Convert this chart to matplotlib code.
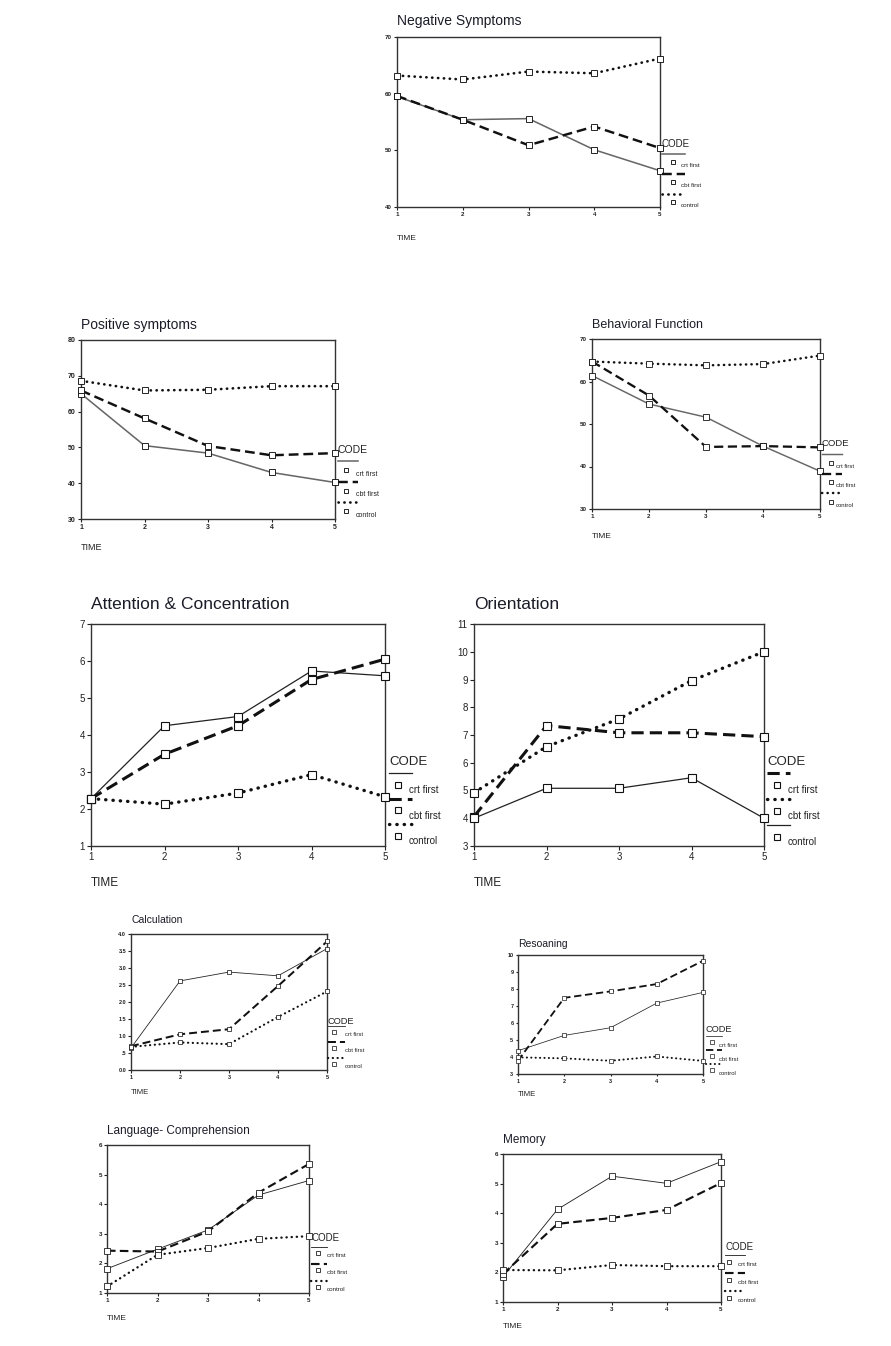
import matplotlib
matplotlib.use('Agg')
import matplotlib.pyplot as plt
from matplotlib.lines import Line2D

plt.rcParams['font.family'] = ['Liberation Sans', 'DejaVu Sans']

W, H = 891, 1346

# data
time = [1, 2, 3, 4, 5]
codes = ['crt first', 'cbt first', 'control']

neg_crt = [59.5, 55.4, 55.6, 50.1, 46.4]
neg_cbt = [59.6, 55.4, 50.9, 54.2, 50.4]
neg_ctrl = [63.2, 62.5, 63.9, 63.6, 66.2]

pos_crt = [65.0, 50.5, 48.4, 43.0, 40.2]
pos_cbt = [65.9, 58.1, 50.4, 47.8, 48.4]
pos_ctrl = [68.6, 65.9, 66.1, 67.1, 67.1]

beh_crt = [61.4, 54.7, 51.6, 44.8, 38.9]
beh_cbt = [64.7, 56.7, 44.6, 44.8, 44.5]
beh_ctrl = [64.7, 64.2, 63.8, 64.1, 66.1]

att_crt = [2.28, 4.25, 4.5, 5.73, 5.6]
att_cbt = [2.28, 3.48, 4.25, 5.5, 6.05]
att_ctrl = [2.28, 2.13, 2.43, 2.93, 2.33]

ori_crt = [4.06, 7.34, 7.08, 7.08, 6.94]
ori_cbt = [4.92, 6.58, 7.58, 8.96, 10.0]
ori_ctrl = [4.0, 5.08, 5.08, 5.46, 4.0]

calc_crt = [0.65, 2.62, 2.88, 2.77, 3.57]
calc_cbt = [0.7, 1.05, 1.2, 2.47, 3.78]
calc_ctrl = [0.68, 0.81, 0.76, 1.56, 2.31]

rea_crt = [4.37, 5.27, 5.72, 7.17, 7.8]
rea_cbt = [3.78, 7.48, 7.86, 8.29, 9.66]
rea_ctrl = [3.98, 3.92, 3.78, 4.03, 3.77]

lang_crt = [1.82, 2.48, 3.13, 4.31, 4.8]
lang_cbt = [2.43, 2.4, 3.08, 4.39, 5.36]
lang_ctrl = [1.22, 2.29, 2.52, 2.83, 2.92]

mem_crt = [1.85, 4.13, 5.25, 5.01, 5.74]
mem_cbt = [1.95, 3.64, 3.84, 4.11, 5.02]
mem_ctrl = [2.08, 2.07, 2.25, 2.21, 2.21]

neg_yticks = [40, 50, 60, 70]
pos_yticks = [30, 40, 50, 60, 70, 80]
beh_yticks = [30, 40, 50, 60, 70]
att_yticks = [1, 2, 3, 4, 5, 6, 7]
ori_yticks = [3, 4, 5, 6, 7, 8, 9, 10, 11]
calc_yticks = [0, 0.5, 1, 1.5, 2, 2.5, 3, 3.5, 4]
calc_yticklabels = ['0.0', '.5', '1.0', '1.5', '2.0', '2.5', '3.0', '3.5', '4.0']
rea_yticks = [3, 4, 5, 6, 7, 8, 9, 10]
lang_yticks = [1, 2, 3, 4, 5, 6]
mem_yticks = [1, 2, 3, 4, 5, 6]


def fx(px):
    return px / W


def fy(py):
    return 1 - py / H


# line style kinds: 's' solid, 'd' dashed, 'o' dotted
def style_kw(kind, k, gray):
    if kind == 's':
        return dict(color='#666666' if gray else '#222222', lw=1.4 * k if gray else 0.9 * k,
                    linestyle='-')
    if kind == 'd':
        return dict(color='#111111', lw=2.2 * k, linestyle=(0, (4, 2)))
    return dict(color='#111111', lw=2.4 * k, linestyle=(0, (0.1, 2.1)),
                dash_capstyle='round')


fig = plt.figure(figsize=(W / 100, H / 100), dpi=100)


def panel(title, series, kinds, yticks, box, k, tfs, tickfs, title_y, time_y, leg,
          gray=False, yticklabels=None):
    l, t, r, b = box
    ax = fig.add_axes([fx(l), fy(b), fx(r) - fx(l), (b - t) / H])
    for vals, kind in zip(series, kinds):
        ax.plot(time, vals, marker='s', ms=5.2 * k, mfc='white', mec='#111111',
                mew=0.8 * k, clip_on=False, zorder=3, **style_kw(kind, k, gray))
    ax.set_xlim(1, 5)
    ax.set_ylim(yticks[0], yticks[-1])
    ax.set_xticks(time)
    ax.set_yticks(yticks)
    if yticklabels:
        ax.set_yticklabels(yticklabels)
    ax.tick_params(labelsize=tickfs, length=3 * k, width=0.8, direction='out', pad=1.5,
                   colors='#222222')
    # the tiny SPSS tick labels look heavy in the original
    if tickfs < 6:
        for lab in ax.get_xticklabels() + ax.get_yticklabels():
            lab.set_fontweight('bold')
    for s in ax.spines.values():
        s.set_color('#333333')
        s.set_linewidth(1.0)
    fig.text(fx(l), fy(title_y), title, fontsize=tfs, ha='left', va='center', color='#1c1c28')
    fig.text(fx(l), fy(time_y), 'TIME', fontsize=max(tickfs + 1.5, 5.5), ha='left',
             va='center', color='#222222')

    # hand made legend, SPSS style
    xc, yc, y1, step, dsq, x1, xsq, xlab, lfs = leg
    fig.text(fx(xc), fy(yc), 'CODE', fontsize=lfs + 2.5, ha='left', va='center', color='#222222')
    for i, kind in enumerate(kinds):
        yl = y1 + i * step
        kw = style_kw(kind, k, gray)
        fig.add_artist(Line2D([fx(xc), fx(x1)], [fy(yl), fy(yl)], transform=fig.transFigure, **kw))
        fig.add_artist(Line2D([fx(xsq)], [fy(yl + dsq)], transform=fig.transFigure,
                              marker='s', ms=4.2 * k, mfc='white', mec='#111111', mew=0.8 * k,
                              linestyle='none'))
        fig.text(fx(xlab), fy(yl + dsq * 1.45), codes[i], fontsize=lfs, ha='left',
                 va='center', color='#222222')
    return ax


panel('Negative Symptoms', [neg_crt, neg_cbt, neg_ctrl], 'sdo', neg_yticks,
      (397, 37, 660, 207), 0.8, 10, 4.5, 21, 239,
      (662, 144, 154, 20, 8, 685, 673, 681, 4.5), gray=True)

panel('Positive symptoms', [pos_crt, pos_cbt, pos_ctrl], 'sdo', pos_yticks,
      (81, 340, 335, 519), 0.8, 10, 5, 325, 548,
      (338, 450, 461, 20.5, 9, 358, 346, 356, 5), gray=True)

panel('Behavioral Function', [beh_crt, beh_cbt, beh_ctrl], 'sdo', beh_yticks,
      (592, 339, 820, 509), 0.75, 9, 4.5, 325, 537,
      (822, 444, 454, 19.5, 8.5, 842, 831, 836, 4.3), gray=True)

panel('Attention & Concentration', [att_crt, att_cbt, att_ctrl], 'sdo', att_yticks,
      (91, 624, 385, 846), 1.0, 12.5, 7, 605, 883,
      (389, 762, 773, 25.7, 11.7, 412, 398, 409, 7))

panel('Orientation', [ori_crt, ori_cbt, ori_ctrl], 'dos', ori_yticks,
      (474, 624, 764, 846), 1.0, 12.5, 7, 605, 883,
      (767, 762, 773, 26, 11.7, 790, 777, 788, 7))

panel('Calculation', [calc_crt, calc_cbt, calc_ctrl], 'sdo', calc_yticks,
      (131, 934, 327, 1070), 0.65, 7.5, 4, 920, 1093,
      (328, 1022, 1026, 16, 6, 345, 334, 345, 4.2), yticklabels=calc_yticklabels)

panel('Resoaning', [rea_crt, rea_cbt, rea_ctrl], 'sdo', rea_yticks,
      (518, 955, 703, 1074), 0.6, 7.5, 4, 944, 1094,
      (706, 1029, 1036, 14, 6.3, 722, 712, 719, 4.2))

panel('Language- Comprehension', [lang_crt, lang_cbt, lang_ctrl], 'sdo', lang_yticks,
      (107, 1145, 309, 1293), 0.7, 8.5, 4.5, 1131, 1319,
      (311, 1238, 1247, 17, 6, 327, 318, 327, 4.5))

panel('Memory', [mem_crt, mem_cbt, mem_ctrl], 'sdo', mem_yticks,
      (503, 1154, 721, 1302), 0.7, 8.5, 4.5, 1140, 1327,
      (725, 1247, 1255, 18, 6.7, 745, 729, 738, 4.5))

fig.savefig('out.png', dpi=100, facecolor='white')
